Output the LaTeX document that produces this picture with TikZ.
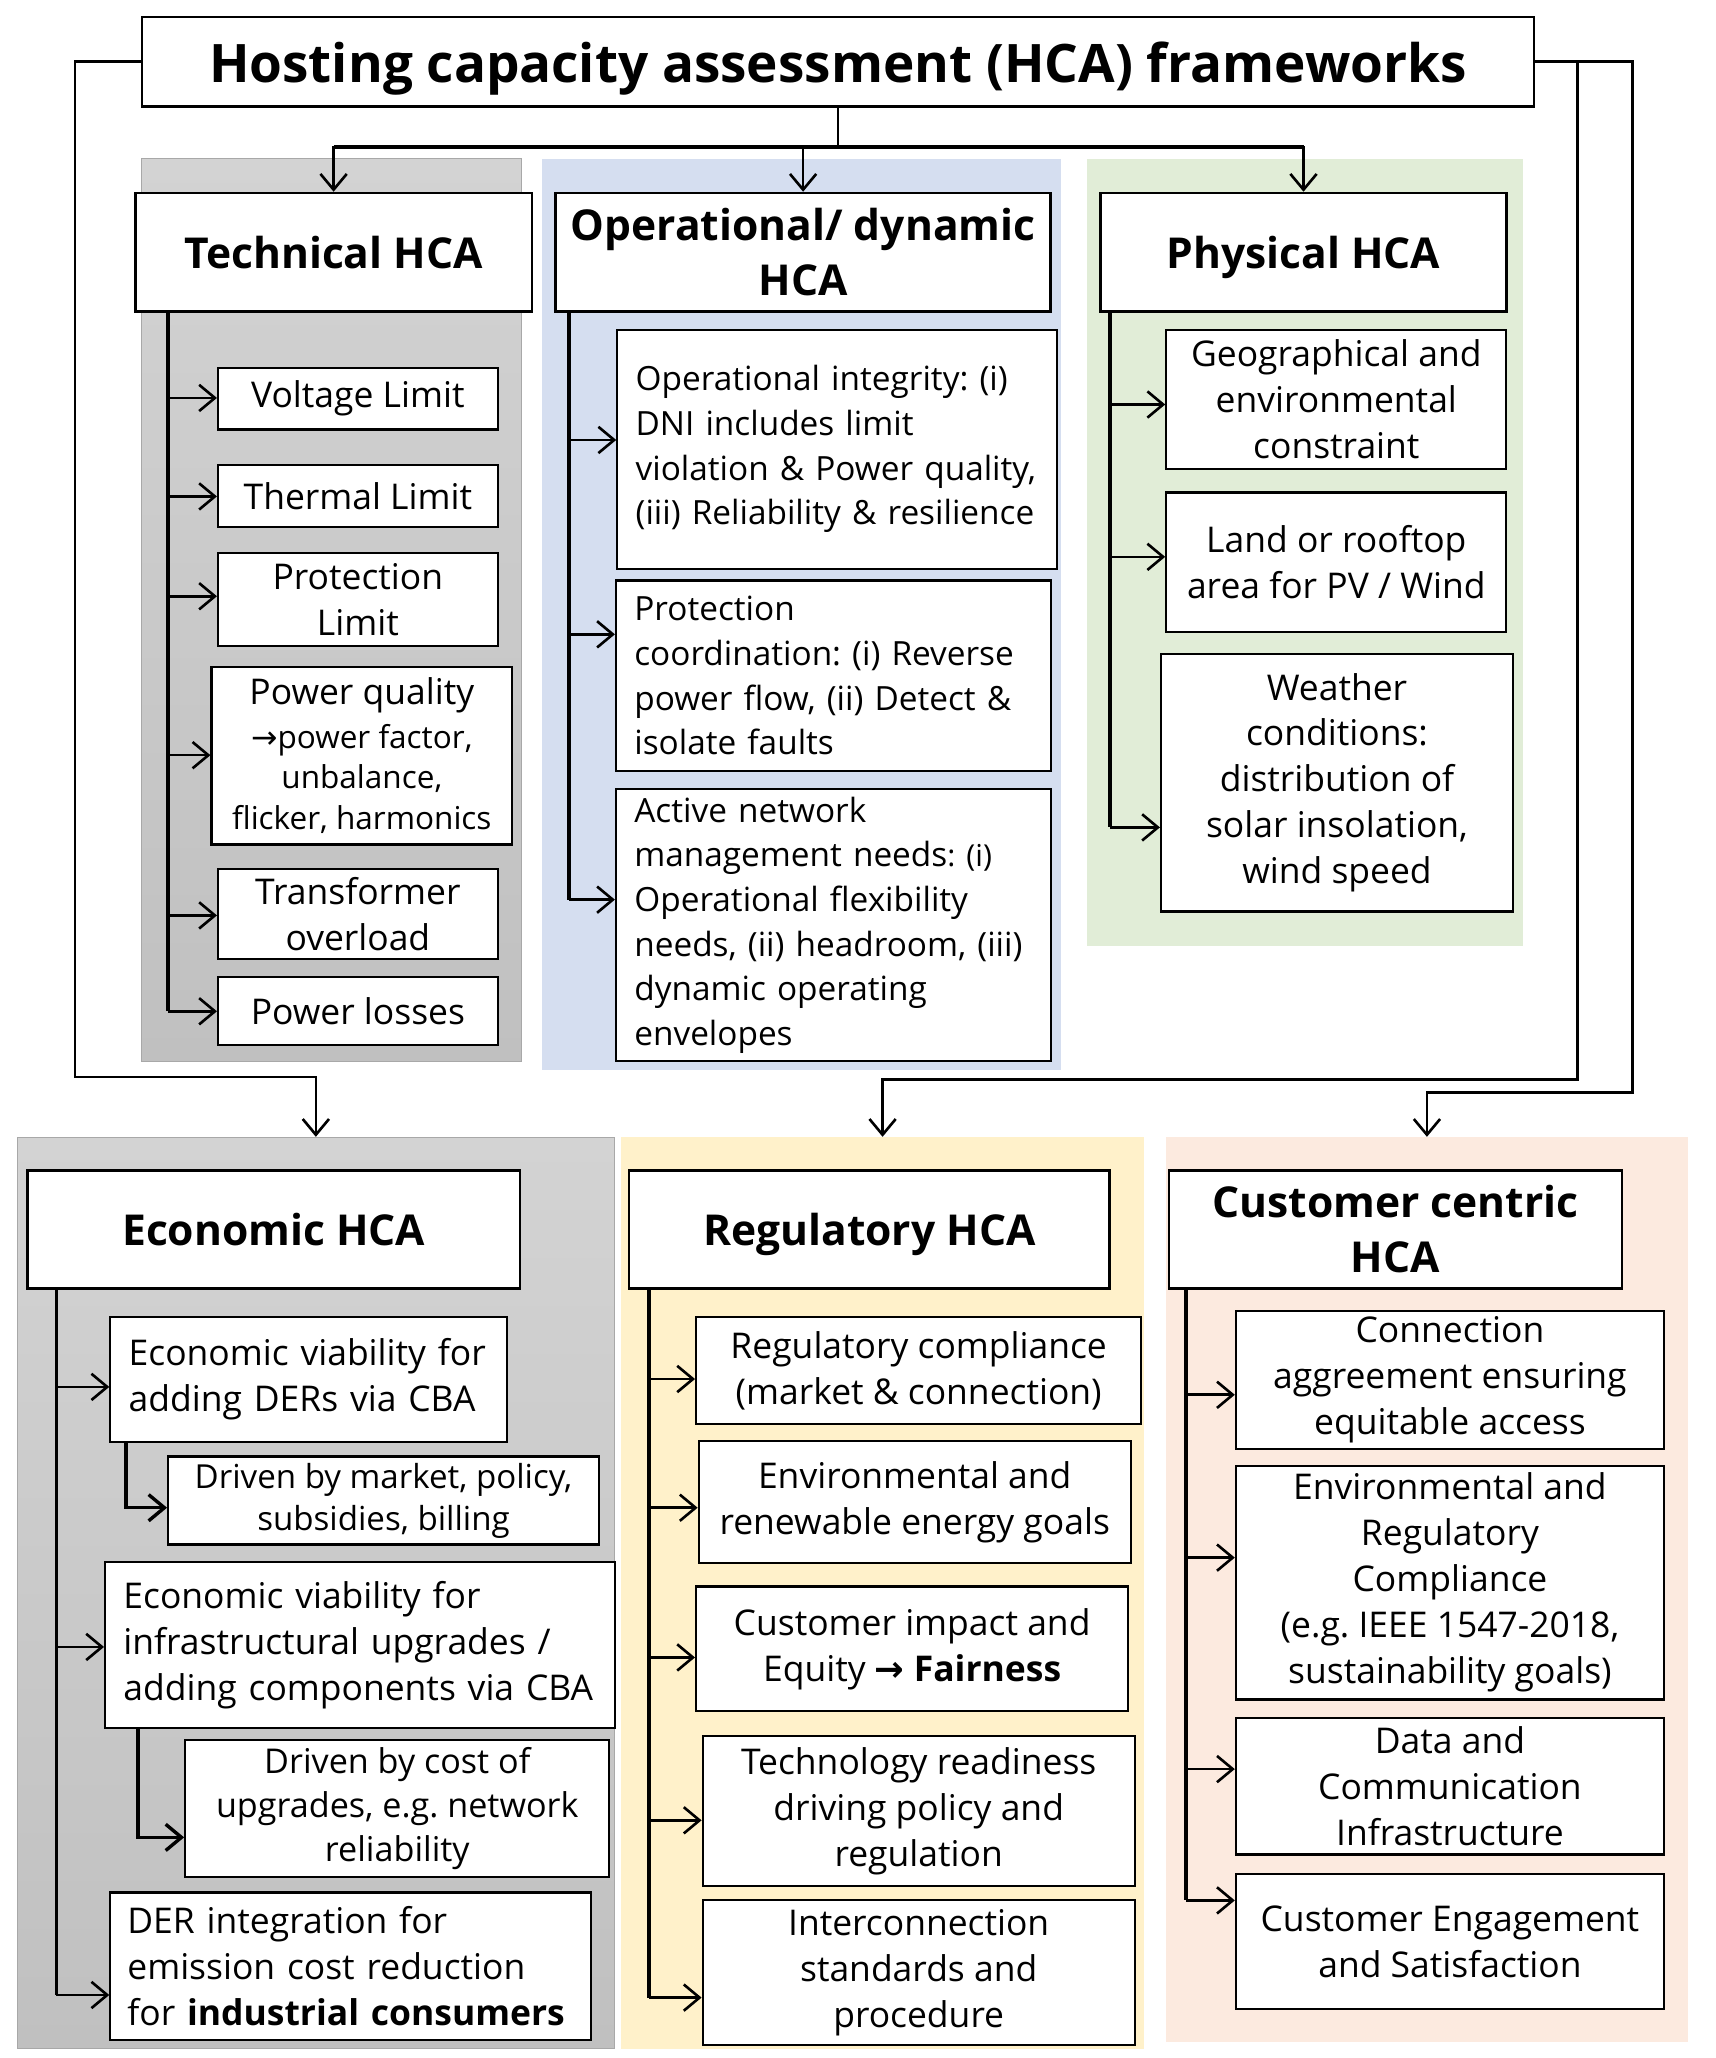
\documentclass[tikz,border=0pt]{standalone}
\usepackage{fontspec}
\setmainfont{Open Sans}
\newfontfamily\arrowfont{DejaVu Sans}
\usetikzlibrary{arrows.meta,fit}
\definecolor{graytop}{HTML}{D3D3D3}
\definecolor{graybot}{HTML}{C0C0C0}
\definecolor{grayedge}{HTML}{A8A8A8}
\definecolor{bluebg}{HTML}{D5DEF0}
\definecolor{greenbg}{HTML}{E1EDD7}
\definecolor{yellowbg}{HTML}{FFF1CA}
\definecolor{peachbg}{HTML}{FCEADF}
\newcommand\hcabody{\fontsize{13.5}{17.5}\selectfont}
\newcommand\hcaop{\fontsize{12.7}{17}\selectfont}
\newcommand\hcahead{\fontsize{16.2}{21}\selectfont\bfseries}
\newcommand\hcatitle{\fontsize{20.2}{24}\selectfont\bfseries}
\newcommand\hcasmall{\fontsize{12}{15.5}\selectfont}
\newcommand\hcadrv{\fontsize{12.6}{16}\selectfont}
\newcommand\hcadrvb{\fontsize{13}{16.75}\selectfont}
\begin{document}
\frenchspacing
\begin{tikzpicture}[x=0.5pt,y=-0.5pt,
  every node/.style={inner sep=0pt},
  place/.style n args={4}{minimum width={(#3-#1)*0.5pt}, minimum height={(#4-#2)*0.5pt}, at={({(#1+#3)/2},{(#2+#4)/2})}},
  bggray/.style={draw=grayedge, line width=0.4pt, top color=graytop, bottom color=graybot},
  bgcol/.style={draw=none, fill=#1},
  box/.style={draw=black, line width=0.8pt, fill=white, align=center, font=\hcabody},
  lbox/.style={box, align=left, text width=#1},
  head/.style={draw=black, line width=1pt, fill=white, align=center, font=\hcahead},
  onehead/.style={head, text depth=0pt},
  trunkline/.style={line width=1.5pt},
  br/.style={line width=1pt, -{Straight Barb[length=6pt,width=10pt]}},
  conn/.style={line width=1pt, -{Straight Barb[length=6pt,width=10pt]}},
  plainconn/.style={line width=1pt}
]
\useasboundingbox (0,0) rectangle (1306,1567);
\fill[white] (0,0) rectangle (1306,1567);

% backgrounds
\node[bggray, fit={(108,121)(397,808)}] (techbg) {};
\node[bgcol=bluebg, fit={(413,121)(808,815)}] (opbg) {};
\node[bgcol=greenbg, fit={(828,121)(1160,720)}] (physbg) {};
\node[bggray, fit={(13,866)(468,1560)}] (ecobg) {};
\node[bgcol=yellowbg, fit={(473,866)(871,1560)}] (regbg) {};
\node[bgcol=peachbg, fit={(888,866)(1285,1555)}] (custbg) {};

% title
\node[draw=black, line width=1pt, fill=white, font=\hcatitle, text depth=0pt, place={108}{13}{1168}{81}] (title) {Hosting capacity assessment (HCA) frameworks};

% headings
\node[onehead, place={103}{147}{405}{237}] (tech) {Technical HCA};
\node[head, place={423}{147}{800}{237}] (op) {Operational/ dynamic\\HCA};
\node[onehead, place={838}{147}{1147}{237}] (phys) {Physical HCA};
\node[onehead, place={21}{891}{396}{981}] (eco) {Economic HCA};
\node[onehead, place={479}{891}{845}{981}] (reg) {Regulatory HCA};
\node[head, place={890}{891}{1235}{981}] (cust) {Customer centric\\HCA};

% technical items
\node[box, place={166}{280}{379}{327}] (v1) {Voltage Limit};
\node[box, place={166}{354}{379}{401}] (v2) {Thermal Limit};
\node[box, place={166}{421}{379}{492}] (v3) {Protection\\Limit};
\node[box, place={161}{508}{390}{643}] (v4) {Power quality\\[-1pt]{\hcasmall{\arrowfont →}power factor,}\\[-2pt]{\hcasmall unbalance,}\\[-2pt]{\hcasmall flicker, harmonics}};
\node[box, place={166}{662}{379}{730}] (v5) {Transformer\\overload};
\node[box, place={166}{744}{379}{796}] (v6) {Power losses};

% operational items
\node[lbox=153.5pt, font=\hcaop, place={470}{251}{805}{433}] (o1) {Operational integrity: (i)\\DNI includes limit\\violation \& Power quality,\\(iii) Reliability \& resilience};
\node[lbox=151.5pt, font=\hcaop, place={469}{442}{800}{587}] (o2) {Protection\\coordination: (i) Reverse\\power flow, (ii) Detect \&\\isolate faults};
\node[lbox=151.5pt, font=\hcaop, place={469}{601}{800}{808}] (o3) {Active network\\management needs{\fontsize{11.5}{15}\selectfont: (i)}\\Operational flexibility\\needs, (ii) headroom, (iii)\\dynamic operating\\envelopes};

% physical items
\node[box, place={888}{251}{1147}{357}] (p1) {Geographical and\\environmental\\constraint};
\node[box, place={888}{375}{1147}{481}] (p2) {Land or rooftop\\area for PV / Wind};
\node[box, place={884}{498}{1152}{694}] (p3) {Weather\\conditions:\\distribution of\\solar insolation,\\wind speed};

% economic items
\node[lbox=137pt, place={84}{1003}{386}{1098}] (e1) {Economic viability for\\adding DERs via CBA};
\node[box, font=\hcadrv, place={128}{1109}{456}{1176}] (es1) {Driven by market, policy,\\subsidies, billing};
\node[lbox=180pt, place={80}{1189}{468}{1316}] (e2) {Economic viability for\\infrastructural upgrades /\\adding components via CBA};
\node[box, font=\hcadrvb, place={141}{1325}{464}{1429}] (es2) {Driven by cost of\\upgrades, e.g. network\\reliability};
\node[lbox=170pt, place={84}{1441}{450}{1553}] (e3) {DER integration for\\emission cost reduction\\for \textbf{industrial consumers}};

% regulatory items
\node[box, place={530}{1003}{869}{1084}] (r1) {Regulatory compliance\\(market \& connection)};
\node[box, place={532}{1097}{861}{1190}] (r2) {Environmental and\\renewable energy goals};
\node[box, place={530}{1208}{859}{1303}] (r3) {Customer impact and\\Equity {\arrowfont\bfseries →} \textbf{Fairness}};
\node[box, place={535}{1322}{864}{1436}] (r4) {Technology readiness\\driving policy and\\regulation};
\node[box, place={535}{1447}{864}{1557}] (r5) {Interconnection\\standards and\\procedure};

% customer items
\node[box, place={941}{998}{1267}{1103}] (c1) {Connection\\aggreement ensuring\\equitable access};
\node[box, place={941}{1116}{1267}{1294}] (c2) {Environmental and\\Regulatory\\Compliance\\(e.g. IEEE 1547-2018,\\sustainability goals)};
\node[box, place={941}{1308}{1267}{1412}] (c3) {Data and\\Communication\\Infrastructure};
\node[box, place={941}{1427}{1267}{1530}] (c4) {Customer Engagement\\and Satisfaction};

% ---- connectors from title
\coordinate (tj) at (638,112);
\draw[plainconn] (title.south -| tj) -- (tj);
\draw[line width=1.5pt] (tech.north |- tj) -- (phys.north |- tj);
\draw[conn] (tj) -| (tech.north);
\draw[conn] (tj) -| (op.north);
\draw[conn] (tj) -| (phys.north);
\coordinate (lc) at (57,820);
\draw[conn] (title.west) -| (lc) -| (ecobg.north);
\coordinate (rc1) at (1243,832);
\draw[conn] (title.east) -| (rc1) -| (custbg.north);
\coordinate (rc2) at (1201,822);
\draw[conn] (title.east) -| (rc2) -| (regbg.north);

% ---- technical branches
\coordinate (t1) at (128,303);
\coordinate (t2) at (128,378);
\coordinate (t3) at (128,454);
\coordinate (t4) at (128,575);
\coordinate (t5) at (128,697);
\coordinate (t6) at (128,770);
\draw[trunkline] (tech.south -| t1) -- (t6);
\draw[br] (t1) -- (t1 -| v1.west);
\draw[br] (t2) -- (t2 -| v2.west);
\draw[br] (t3) -- (t3 -| v3.west);
\draw[br] (t4) -- (t4 -| v4.west);
\draw[br] (t5) -- (t5 -| v5.west);
\draw[br] (t6) -- (t6 -| v6.west);

% ---- operational branches
\coordinate (q1) at (433,335);
\coordinate (q2) at (433,483);
\coordinate (q3) at (433,685);
\draw[trunkline] (op.south -| q1) -- (q3);
\draw[br] (q1) -- (q1 -| o1.west);
\draw[br] (q2) -- (q2 -| o2.west);
\draw[br] (q3) -- (q3 -| o3.west);

% ---- physical branches
\coordinate (h1) at (845,308);
\coordinate (h2) at (845,424);
\coordinate (h3) at (845,630);
\draw[trunkline] (phys.south -| h1) -- (h3);
\draw[br] (h1) -- (h1 -| p1.west);
\draw[br] (h2) -- (h2 -| p2.west);
\draw[br] (h3) -- (h3 -| p3.west);

% ---- economic branches
\coordinate (k1) at (43,1056);
\coordinate (k2) at (43,1254);
\coordinate (k3) at (43,1519);
\draw[trunkline] (eco.south -| k1) -- (k3);
\draw[br] (k1) -- (k1 -| e1.west);
\draw[br] (k2) -- (k2 -| e2.west);
\draw[br] (k3) -- (k3 -| e3.west);
\coordinate (ks1) at (96,1148);
\coordinate (ks2) at (105,1399);
\draw[br, line width=1.3pt] (e1.south -| ks1) -- (ks1) -- (ks1 -| es1.west);
\draw[br, line width=1.3pt] (e2.south -| ks2) -- (ks2) -- (ks2 -| es2.west);

% ---- regulatory branches
\coordinate (g1) at (494,1050);
\coordinate (g2) at (494,1148);
\coordinate (g3) at (494,1262);
\coordinate (g4) at (494,1386);
\coordinate (g5) at (494,1521);
\draw[trunkline] (reg.south -| g1) -- (g5);
\draw[br] (g1) -- (g1 -| r1.west);
\draw[br] (g2) -- (g2 -| r2.west);
\draw[br] (g3) -- (g3 -| r3.west);
\draw[br] (g4) -- (g4 -| r4.west);
\draw[br] (g5) -- (g5 -| r5.west);

% ---- customer branches
\coordinate (u1) at (903,1062);
\coordinate (u2) at (903,1186);
\coordinate (u3) at (903,1347);
\coordinate (u4) at (903,1447);
\draw[trunkline] (cust.south -| u1) -- (u4);
\draw[br] (u1) -- (u1 -| c1.west);
\draw[br] (u2) -- (u2 -| c2.west);
\draw[br] (u3) -- (u3 -| c3.west);
\draw[br] (u4) -- (u4 -| c4.west);
\end{tikzpicture}
\end{document}
